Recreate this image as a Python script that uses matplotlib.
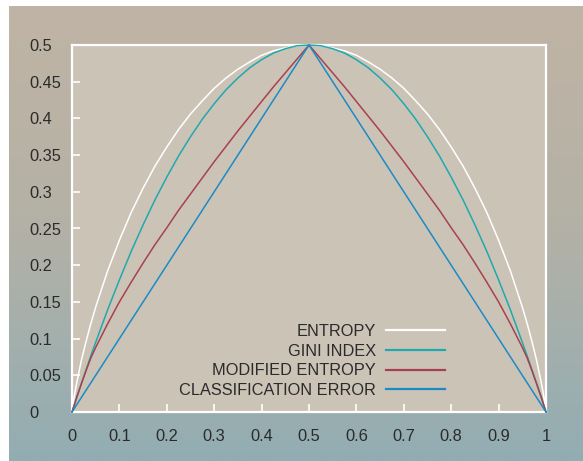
import numpy as np
import matplotlib
matplotlib.use("Agg")
import matplotlib.pyplot as plt
from matplotlib.colors import LinearSegmentedColormap

plt.rcParams['font.family'] = ['Liberation Sans', 'DejaVu Sans']

# values
p = [0, 0.005, 0.01, 0.02, 0.03, 0.04, 0.05, 0.075, 0.1, 0.125, 0.15, 0.175, 0.2, 0.225, 0.25,
     0.275, 0.3, 0.325, 0.35, 0.375, 0.4, 0.425, 0.45, 0.475, 0.5,
     0.525, 0.55, 0.575, 0.6, 0.625, 0.65, 0.675, 0.7, 0.725, 0.75, 0.775, 0.8, 0.825, 0.85,
     0.875, 0.9, 0.925, 0.95, 0.96, 0.97, 0.98, 0.99, 0.995, 1]
entropy = [0, 0.023, 0.040, 0.071, 0.097, 0.121, 0.143, 0.192, 0.234, 0.272, 0.305, 0.335, 0.361, 0.385, 0.406,
           0.424, 0.441, 0.455, 0.467, 0.477, 0.486, 0.492, 0.496, 0.499, 0.5,
           0.499, 0.496, 0.492, 0.486, 0.477, 0.467, 0.455, 0.441, 0.424, 0.406, 0.385, 0.361, 0.335, 0.305,
           0.272, 0.234, 0.192, 0.143, 0.121, 0.097, 0.071, 0.040, 0.023, 0]
gini = [0, 0.010, 0.020, 0.039, 0.058, 0.077, 0.095, 0.139, 0.180, 0.219, 0.255, 0.289, 0.320, 0.349, 0.375,
        0.399, 0.420, 0.439, 0.455, 0.469, 0.480, 0.489, 0.495, 0.499, 0.5,
        0.499, 0.495, 0.489, 0.480, 0.469, 0.455, 0.439, 0.420, 0.399, 0.375, 0.349, 0.320, 0.289, 0.255,
        0.219, 0.180, 0.139, 0.095, 0.077, 0.058, 0.039, 0.020, 0.010, 0]
mod_entropy = [0, 0.010, 0.020, 0.039, 0.057, 0.074, 0.088, 0.120, 0.150, 0.177, 0.203, 0.228, 0.251, 0.275, 0.297,
               0.319, 0.341, 0.362, 0.383, 0.403, 0.423, 0.443, 0.462, 0.481, 0.5,
               0.481, 0.462, 0.443, 0.423, 0.403, 0.383, 0.362, 0.341, 0.319, 0.297, 0.275, 0.251, 0.228, 0.203,
               0.177, 0.150, 0.120, 0.088, 0.074, 0.057, 0.039, 0.020, 0.010, 0]
class_error = [0, 0.005, 0.01, 0.02, 0.03, 0.04, 0.05, 0.075, 0.1, 0.125, 0.15, 0.175, 0.2, 0.225, 0.25,
               0.275, 0.3, 0.325, 0.35, 0.375, 0.4, 0.425, 0.45, 0.475, 0.5,
               0.475, 0.45, 0.425, 0.4, 0.375, 0.35, 0.325, 0.3, 0.275, 0.25, 0.225, 0.2, 0.175, 0.15,
               0.125, 0.1, 0.075, 0.05, 0.04, 0.03, 0.02, 0.01, 0.005, 0]

names = ["ENTROPY", "GINI INDEX", "MODIFIED ENTROPY", "CLASSIFICATION ERROR"]
colors = ["#ffffff", "#1fa9ae", "#a8414f", "#1b8bc6"]

xticks = [0, 0.1, 0.2, 0.3, 0.4, 0.5, 0.6, 0.7, 0.8, 0.9, 1]
xlabels = ["0", "0.1", "0.2", "0.3", "0.4", "0.5", "0.6", "0.7", "0.8", "0.9", "1"]
yticks = [0, 0.05, 0.1, 0.15, 0.2, 0.25, 0.3, 0.35, 0.4, 0.45, 0.5]
ylabels = ["0", "0.05", "0.1", "0.15", "0.2", "0.25", "0.3", "0.35", "0.4", "0.45", "0.5"]

W, H = 583, 461
fig = plt.figure(figsize=(W / 100, H / 100), dpi=100, facecolor="white")

# gradient backdrop
bg = fig.add_axes([9 / W, 0, 1 - 9 / W, 1 - 6 / H], zorder=0)
grad = LinearSegmentedColormap.from_list("bg", ["#c0b4a5", "#b3b1a6", "#92adb3"])
bg.imshow(np.linspace(0, 1, 256).reshape(-1, 1), aspect="auto", cmap=grad,
          extent=[0, 1, 0, 1], origin="upper")
bg.axis("off")

ax = fig.add_axes([72 / W, (H - 412) / H, (546 - 72) / W, (412 - 45) / H], zorder=1)
ax.set_facecolor("#ccc3b7")

for y, name, c in zip([entropy, gini, mod_entropy, class_error], names, colors):
    ax.plot(p, y, color=c, lw=1.1, label=name, clip_on=False, zorder=3)

ax.set_xlim(0, 1)
ax.set_ylim(0, 0.5)
ax.set_xticks(xticks)
ax.set_xticklabels(xlabels)
ax.set_yticks(yticks)
ax.set_yticklabels(ylabels, ha="left")

for s in ax.spines.values():
    s.set_color("white")
    s.set_linewidth(1.6)
ax.tick_params(direction="in", color="white", length=6, width=1.2,
               labelsize=11.8, labelcolor="#2b2b2b")
ax.tick_params(axis="x", pad=12.5)
ax.tick_params(axis="y", pad=31)

leg = ax.legend(loc="lower right", bbox_to_anchor=(445 / W, (H - 398) / H),
                bbox_transform=fig.transFigure, frameon=False, markerfirst=False,
                fontsize=11.8, handlelength=3.6, handletextpad=0.6,
                labelspacing=0.28, borderpad=0, borderaxespad=0)
for t in leg.get_texts():
    t.set_color("#2b2b2b")
for l in leg.get_lines():
    l.set_linewidth(1.6)

fig.savefig("out.png", dpi=100, facecolor="white")
